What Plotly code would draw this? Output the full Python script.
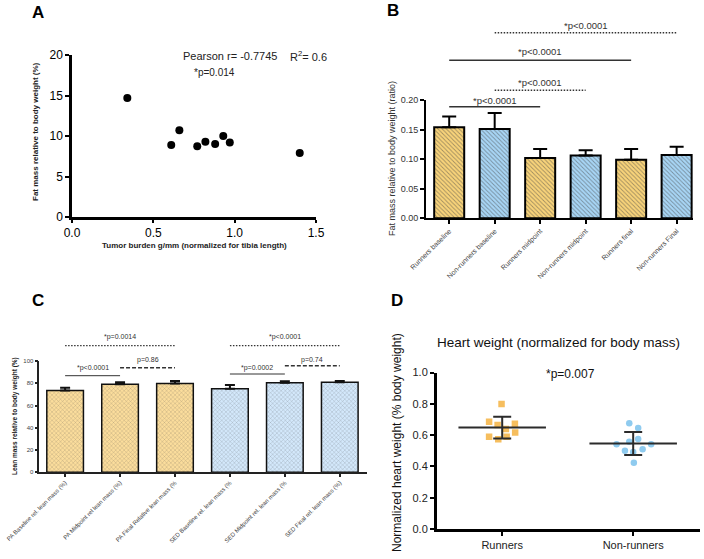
import plotly.graph_objects as go
import numpy as np

W, H = 704, 559
FONT = "Liberation Sans, Arial, sans-serif"

# ---------------- Panel A data ----------------
tumor_burden = [0.34, 0.61, 0.66, 0.77, 0.82, 0.88, 0.93, 0.97, 1.40]
fat_mass_pct = [14.7, 8.9, 10.7, 8.75, 9.3, 9.0, 10.0, 9.2, 7.9]
a_xticks = [0.0, 0.5, 1.0, 1.5]
a_yticks = [0, 5, 10, 15, 20]

# ---------------- Panel B data ----------------
b_groups = ["Runners baseline", "Non-runners baseline", "Runners midpoint",
            "Non-runners midpoint", "Runners final", "Non-runners Final"]
b_means = [0.154, 0.151, 0.102, 0.106, 0.099, 0.107]
b_sem = [0.018, 0.027, 0.015, 0.009, 0.018, 0.014]
b_sig_pairs = [(1, 5), (0, 4), (1, 3), (0, 2)]
b_sig_labels = ["*p<0.0001", "*p<0.0001", "*p<0.0001", "*p<0.0001"]

# ---------------- Panel C data ----------------
c_groups = ["PA Baseline rel. lean mass (%)", "PA Midpoint rel lean mass (%)",
            "PA Final Relative lean mass (%", "SED Baseline rel. lean mass (%",
            "SED Midpoint rel. lean mass (%", "SED Final rel. lean mass (%)"]
c_means = [73.5, 79.2, 79.8, 75.0, 80.5, 80.8]
c_sem = [2.4, 1.6, 2.2, 3.4, 1.4, 1.2]
c_sig_pairs = [(0, 2), (0, 1), (1, 2), (3, 5), (3, 4), (4, 5)]
c_sig_labels = ["*p=0.0014", "*p<0.0001", "p=0.86", "*p<0.0001", "*p=0.0002", "p=0.74"]

# ---------------- Panel D data ----------------
d_groups = ["Runners", "Non-runners"]
runners_hw = [0.799, 0.686, 0.665, 0.673, 0.639, 0.616, 0.590, 0.590, 0.573]
runners_jitter = [-0.005, -0.10, -0.035, 0.097, 0.028, 0.099, -0.10, 0.034, -0.03]
nonrunners_hw = [0.675, 0.645, 0.575, 0.558, 0.541, 0.541, 0.509, 0.500, 0.492, 0.424]
nonrunners_jitter = [-0.03, 0.038, 0.038, -0.03, -0.127, 0.137, 0.072, -0.063, 0.0, 0.005]


def px(x):
    return x / W


def py(y):
    return 1 - y / H


YEL_B, YEL_B_FG = "#F9D47A", "#E6B24A"
BLU_B, BLU_B_FG = "#A8D6F6", "#78B8E6"
YEL_C, YEL_C_FG = "#FBDD9C", "#EDC26A"
BLU_C, BLU_C_FG = "#D3E8FB", "#B8D6F2"

fig = go.Figure()

# Panel A
fig.add_trace(go.Scatter(x=tumor_burden, y=fat_mass_pct, mode="markers",
                         marker=dict(color="black", size=8),
                         xaxis="x", yaxis="y", showlegend=False))

# Panel B
fig.add_trace(go.Bar(
    x=b_groups, y=b_means, width=0.66, xaxis="x2", yaxis="y2", showlegend=False,
    marker=dict(color=[YEL_B, BLU_B] * 3,
                line=dict(color="black", width=2),
                pattern=dict(shape="\\", size=3, solidity=0.3, fillmode="overlay",
                             fgcolor=[YEL_B_FG, BLU_B_FG] * 3)),
    error_y=dict(type="data", symmetric=False, array=b_sem,
                 arrayminus=[0] * len(b_sem), color="black", thickness=2, width=7)))

# Panel C
fig.add_trace(go.Bar(
    x=c_groups, y=c_means, width=0.667, xaxis="x3", yaxis="y3", showlegend=False,
    marker=dict(color=[YEL_C] * 3 + [BLU_C] * 3,
                line=dict(color="#111", width=1.5),
                pattern=dict(shape="x", size=3, solidity=0.2, fillmode="overlay",
                             fgcolor=[YEL_C_FG] * 3 + [BLU_C_FG] * 3)),
    error_y=dict(type="data", symmetric=False, array=c_sem,
                 arrayminus=[0] * len(c_sem), color="#111", thickness=2, width=5)))

# Panel D
d_sets = [(runners_hw, runners_jitter, "square", "#F6BE5E"),
          (nonrunners_hw, nonrunners_jitter, "circle", "#8FCBEF")]
for gi, (vals, jit, sym, col) in enumerate(d_sets):
    fig.add_trace(go.Scatter(x=[gi + j for j in jit], y=vals, mode="markers",
                             marker=dict(symbol=sym, color=col, size=6.5),
                             xaxis="x4", yaxis="y4", showlegend=False))
    m = float(np.mean(vals))
    sd = float(np.std(vals, ddof=1))
    fig.add_trace(go.Scatter(x=[gi - 0.334, gi + 0.334], y=[m, m], mode="lines",
                             line=dict(color="#2b2b2b", width=2),
                             xaxis="x4", yaxis="y4", showlegend=False))
    fig.add_trace(go.Scatter(x=[gi], y=[m], mode="markers",
                             marker=dict(size=1, color="rgba(0,0,0,0)"),
                             error_y=dict(type="data", array=[sd], color="#2b2b2b",
                                          thickness=2, width=9),
                             xaxis="x4", yaxis="y4", showlegend=False))

ax_common = dict(showgrid=False, zeroline=False, showline=True, ticks="outside",
                 mirror=False, automargin=False)

layout = dict(
    template="none",
    width=W, height=H, margin=dict(l=0, r=0, t=0, b=0, autoexpand=False),
    paper_bgcolor="white", plot_bgcolor="white",
    font=dict(family=FONT, color="black"),
    showlegend=False,
    xaxis=dict(domain=[px(72), px(316)], range=[0, 1.5], tickvals=a_xticks,
               tickformat=".1f", linecolor="black", linewidth=2.5, tickwidth=2,
               ticklen=3, tickcolor="black", tickfont=dict(size=12), anchor="y",
               **ax_common),
    yaxis=dict(domain=[py(217), py(55)], range=[0, 20], tickvals=a_yticks,
               linecolor="black", linewidth=2.5, tickwidth=2, ticklen=4,
               tickcolor="black", tickfont=dict(size=12), anchor="x", **ax_common),
    xaxis2=dict(domain=[px(426), px(693)], range=[-0.51, 5.36], type="category",
                tickangle=-45, linecolor="black", linewidth=2, tickwidth=2,
                ticklen=4, tickcolor="black",
                tickfont=dict(size=7, color="#444"), anchor="y2", **ax_common),
    yaxis2=dict(domain=[py(218.3), py(100)], range=[0, 0.20], dtick=0.05,
                tickformat=".2f", linecolor="black", linewidth=2, tickwidth=2,
                ticklen=4, tickcolor="black", tickfont=dict(size=9, color="#333"),
                anchor="x2", **ax_common),
    xaxis3=dict(domain=[px(39.3), px(366.7)], range=[-0.47, 5.49], type="category",
                tickangle=-45, linecolor="#222", linewidth=1.5, tickwidth=1.5,
                ticklen=3, tickcolor="#222", tickfont=dict(size=6, color="#444"),
                anchor="y3", **ax_common),
    yaxis3=dict(domain=[py(472.3), py(361)], range=[0, 100], dtick=20,
                linecolor="#222", linewidth=1.5, tickwidth=1.5, ticklen=3,
                tickcolor="#222", tickfont=dict(size=6, color="#444"),
                anchor="x3", **ax_common),
    xaxis4=dict(domain=[px(436.7), px(700)], range=[-0.5, 1.51],
                tickvals=[0, 1], ticktext=d_groups, linecolor="black",
                linewidth=2.5, tickwidth=2, ticklen=4, tickcolor="black",
                tickfont=dict(size=11, color="#222"), anchor="y4", **ax_common),
    yaxis4=dict(domain=[py(529), py(372.5)], range=[0, 1.0], dtick=0.2,
                tickformat=".1f", linecolor="black", linewidth=2.5, tickwidth=2,
                ticklen=4, tickcolor="black", tickfont=dict(size=11, color="#222"),
                anchor="x4", **ax_common),
)

shapes = []
annotations = []


def note(text, x, y, size, xref="paper", yref="paper", bold=False, angle=0, color="#222"):
    annotations.append(dict(text=f"<b>{text}</b>" if bold else text, x=x, y=y,
                            xref=xref, yref=yref, showarrow=False,
                            xanchor="center", yanchor="middle", textangle=angle,
                            font=dict(size=size, color=color, family=FONT)))


# Panel letters
note("A", px(38), py(12), 17, bold=True, color="black")
note("B", px(393), py(10), 17, bold=True, color="black")
note("C", px(38), py(300), 17, bold=True, color="black")
note("D", px(397), py(300), 17, bold=True, color="black")

# Panel A texts
note("Pearson r= -0.7745", px(230), py(56), 11)
note("R<sup>2</sup>= 0.6", px(308), py(56), 11)
note("*p=0.014", px(214), py(73), 10)
note("Tumor burden g/mm (normalized for tibia length)", px(194), py(245), 8, bold=True)
note("Fat mass relative to body weight (%)", px(35), py(132), 8, bold=True, angle=-90)

# Panel B
note("Fat mass relative to body weight (ratio)", px(392), py(158), 9, angle=-90, color="#333")
b_line_y = [32.7, 60.3, 90.3, 106.7]
b_text_y = [26, 52, 83, 100]
b_dash = ["1.5px,1.5px", "solid", "1.5px,1.5px", "solid"]
for (i0, i1), lab, ly, ty, ds in zip(b_sig_pairs, b_sig_labels, b_line_y, b_text_y, b_dash):
    shapes.append(dict(type="line", xref="x2", yref="paper", x0=i0, x1=i1,
                       y0=py(ly), y1=py(ly),
                       line=dict(color="#333", width=1.5, dash=ds)))
    note(lab, (i0 + i1) / 2, py(ty), 9.5, xref="x2", color="#333")

# Panel C
note("Lean mass relative to body weight (%)", px(15), py(416), 6.5, bold=True, angle=-90)
c_line_y = [345.7, 375.7, 367.7, 345.7, 374, 365.7]
c_text_y = [337.3, 368.3, 360, 337.3, 368.3, 360]
c_dash = ["1.5px,1.5px", "solid", "4px,2px", "1.5px,1.5px", "solid", "4px,2px"]
c_w = [1.2, 1, 1.5, 1.2, 1, 1.5]
for (i0, i1), lab, ly, ty, ds, lw in zip(c_sig_pairs, c_sig_labels, c_line_y, c_text_y, c_dash, c_w):
    shapes.append(dict(type="line", xref="x3", yref="paper", x0=i0, x1=i1,
                       y0=py(ly), y1=py(ly),
                       line=dict(color="#333", width=lw, dash=ds)))
    note(lab, (i0 + i1) / 2, py(ty), 7, xref="x3", color="#333")

# Panel D
note("Heart weight (normalized for body mass)", px(558), py(342), 13.5, color="#111")
note("*p=0.007", px(570), py(374), 12, color="#111")
note("Normalized heart weight (% body weight)", px(397), py(443), 12, angle=-90, color="#111")

layout["shapes"] = shapes
layout["annotations"] = annotations
fig.update_layout(**layout)

fig.write_html("out.html", config={"displayModeBar": False},
               post_script="document.body.style.margin='0';")
